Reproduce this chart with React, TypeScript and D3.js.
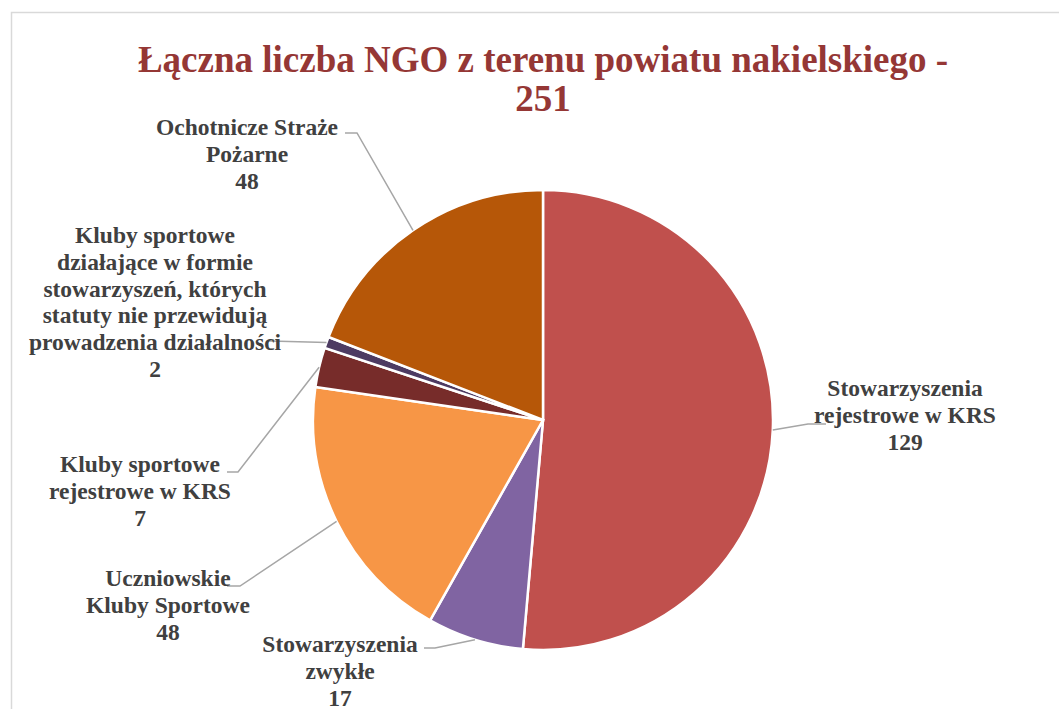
import React from "react";
import * as d3 from "d3";

const categories = [
  "Stowarzyszenia rejestrowe w KRS",
  "Stowarzyszenia zwykłe",
  "Uczniowskie Kluby Sportowe",
  "Kluby sportowe rejestrowe w KRS",
  "Kluby sportowe działające w formie stowarzyszeń, których statuty nie przewidują prowadzenia działalności",
  "Ochotnicze Straże Pożarne",
];
const values = [129, 17, 48, 7, 2, 48];
const colors = ["#C0504D", "#8064A2", "#F79646", "#772C2A", "#4D3B62", "#B65708"];
const labelLines = [
  ["Stowarzyszenia", "rejestrowe w KRS"],
  ["Stowarzyszenia", "zwykłe"],
  ["Uczniowskie", "Kluby Sportowe"],
  ["Kluby sportowe", "rejestrowe w KRS"],
  ["Kluby sportowe", "działające w formie", "stowarzyszeń, których", "statuty nie przewidują", "prowadzenia działalności"],
  ["Ochotnicze Straże", "Pożarne"],
];
const titleLines = ["Łączna liczba NGO z terenu powiatu nakielskiego -", "251"];

// layout: label center x, first baseline y, leader elbow (x,y), leader end (x,y)
const layout = [
  { cx: 905, y: 396, ex: 808, ey: 424, tx: 826, ty: 424 },
  { cx: 340, y: 652, ex: 435, ey: 648, tx: 424, ty: 648 },
  { cx: 168, y: 586, ex: 240, ey: 586, tx: 227, ty: 586 },
  { cx: 140, y: 472, ex: 238, ey: 472, tx: 227, ty: 472 },
  { cx: 155, y: 243, ex: 270, ey: 341, tx: 268, ty: 341 },
  { cx: 247, y: 135, ex: 357, ey: 133, tx: 345, ty: 133 },
];

export default function App() {
  const W = 1059, H = 709;
  const cx = 543, cy = 420, r = 230;
  const pie = d3.pie<number>().sort(null).value((d) => d)(values);
  const arc = d3.arc<d3.PieArcDatum<number>>().innerRadius(0).outerRadius(r);
  const font = "'Liberation Serif', 'Times New Roman', serif";
  const lh = 26.8;
  return (
    <svg width={W} height={H} style={{ position: "absolute", left: 0, top: 0 }}>
      <rect x={0} y={0} width={W} height={H} fill="#fff" />
      <rect x={11.5} y={12.5} width={W + 20} height={H + 20} fill="none" stroke="#D9D9D9" strokeWidth={1.5} />
      {titleLines.map((t, i) => (
        <text key={i} x={cx} y={72 + i * 39} textAnchor="middle" fontFamily={font} fontWeight="bold" fontSize={37} fill="#953735">
          {t}
        </text>
      ))}
      <g transform={`translate(${cx},${cy})`}>
        {pie.map((p, i) => (
          <path key={i} d={arc(p) as string} fill={colors[i]} stroke="#fff" strokeWidth={2.5} />
        ))}
      </g>
      {pie.map((p, i) => {
        const mid = (p.startAngle + p.endAngle) / 2;
        const px = cx + r * Math.sin(mid);
        const py = cy - r * Math.cos(mid);
        const L = layout[i];
        return (
          <polyline key={"l" + i} points={`${px},${py} ${L.ex},${L.ey} ${L.tx},${L.ty}`} fill="none" stroke="#A6A6A6" strokeWidth={1.5} />
        );
      })}
      {pie.map((p, i) => {
        const L = layout[i];
        const lines = [...labelLines[i], String(values[i])];
        return (
          <text key={"t" + i} textAnchor="middle" fontFamily={font} fontWeight="bold" fontSize={23.5} fill="#404040">
            {lines.map((ln, j) => (
              <tspan key={j} x={L.cx} y={L.y + j * lh}>{ln}</tspan>
            ))}
          </text>
        );
      })}
    </svg>
  );
}
